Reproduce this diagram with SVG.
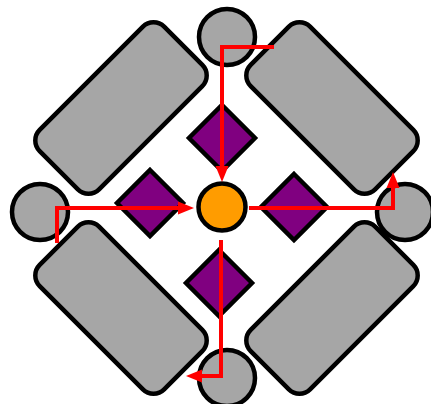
<svg xmlns="http://www.w3.org/2000/svg" width="431" height="404" viewBox="0 0 431 404">
<style>
.blk{fill:#a6a6a6;stroke:#000;stroke-width:4.5}
.dia{fill:#800080;stroke:#000;stroke-width:4.5}
.ctr{fill:#ff9c00;stroke:#000;stroke-width:4.5}
.con{fill:none;stroke:#ff0000;stroke-width:4;stroke-linejoin:miter}
</style>
<defs>
<marker id="ah" markerUnits="userSpaceOnUse" markerWidth="16" markerHeight="13" refX="0" refY="6.5" orient="auto" overflow="visible">
<path d="M0,0 L16,6.5 L0,13 z" fill="#ff0000"/>
</marker>
</defs>
<rect width="431" height="404" fill="#fff"/>
<g id="rect-tl"><rect class="blk" x="-88" y="-42" width="176" height="84" rx="15" transform="translate(121,108) rotate(-45)"/></g>
<g id="rect-tr"><rect class="blk" x="-88" y="-42" width="176" height="84" rx="15" transform="translate(332,108) rotate(45)"/></g>
<g id="rect-bl"><rect class="blk" x="-88" y="-42" width="176" height="84" rx="15" transform="translate(121,308) rotate(45)"/></g>
<g id="rect-br"><rect class="blk" x="-88" y="-42" width="176" height="84" rx="15" transform="translate(332,308) rotate(-45)"/></g>
<g id="circ-top"><circle class="blk" cx="227" cy="37" r="28"/></g>
<g id="circ-left"><circle class="blk" cx="40" cy="212" r="28"/></g>
<g id="circ-right"><circle class="blk" cx="405" cy="212" r="28"/></g>
<g id="circ-bottom"><circle class="blk" cx="227" cy="378" r="28"/></g>
<g id="dia-top"><polygon class="dia" points="222,105 255,138 222,171 189,138"/></g>
<g id="dia-left"><polygon class="dia" points="150,170 183,203 150,236 117,203"/></g>
<g id="dia-right"><polygon class="dia" points="294,174 327,207 294,240 261,207"/></g>
<g id="dia-bottom"><polygon class="dia" points="219,250 252,283 219,316 186,283"/></g>
<g id="center"><circle class="ctr" cx="222" cy="207" r="23.5"/></g>
<g id="connectors">
<path class="con" d="M274,47 H222 V166" marker-end="url(#ah)"/>
<path class="con" d="M57,243 V208 H178" marker-end="url(#ah)"/>
<path class="con" d="M249,208 H393 V188" marker-end="url(#ah)"/>
<path class="con" d="M221,240 V376 H202" marker-end="url(#ah)"/>
</g>
</svg>
